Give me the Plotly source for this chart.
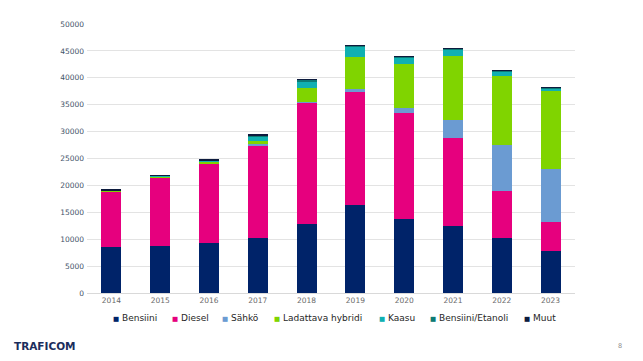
import plotly.graph_objects as go

years = ["2014", "2015", "2016", "2017", "2018", "2019", "2020", "2021", "2022", "2023"]
bensiini = [8560, 8810, 9300, 10230, 12780, 16310, 13710, 12410, 10230, 7890]
diesel = [10360, 12660, 14770, 17240, 22560, 21210, 19660, 16420, 8820, 5260]
sahko = [20, 30, 50, 150, 250, 310, 930, 3420, 8550, 9990]
hybridi = [60, 150, 280, 720, 2490, 6070, 8240, 11840, 12770, 14430]
kaasu = [60, 100, 180, 800, 1300, 1870, 1240, 1180, 810, 450]
etanoli = [80, 120, 120, 200, 300, 190, 200, 200, 190, 190]
muut = [30, 40, 30, 40, 70, 60, 50, 50, 50, 50]

series_names = ["Bensiini", "Diesel", "Sähkö", "Ladattava hybridi", "Kaasu", "Bensiini/Etanoli", "Muut"]
series_values = [bensiini, diesel, sahko, hybridi, kaasu, etanoli, muut]
colors = ["#002369", "#e6007e", "#6b9bd2", "#80d400", "#10b0b2", "#0d7a74", "#0d1b3e"]
y_ticks = [0, 5000, 10000, 15000, 20000, 25000, 30000, 35000, 40000, 45000, 50000]

fig = go.Figure()
for name, vals, col in zip(series_names, series_values, colors):
    fig.add_trace(go.Bar(x=years, y=vals, name=name, marker=dict(color=col, line=dict(width=0)),
                         showlegend=False))

OFF = 8  # page body margin
W, H = 643 - OFF, 361 - OFF
L, R, T, B = 87 - OFF, 68, 24 - OFF, 68
pw = W - L - R
ph = H - T - B

fig.update_layout(
    width=W, height=H,
    margin=dict(l=L, r=R, t=T, b=B, pad=0),
    barmode="stack",
    bargap=0.59,
    plot_bgcolor="white",
    paper_bgcolor="white",
    font=dict(family="DejaVu Sans, Verdana, sans-serif", size=7.5, color="#595959"),
    xaxis=dict(type="category", showgrid=False, showline=True, linecolor="#d9d9d9", linewidth=1,
               ticks="", tickfont=dict(size=7.5, color="#6a6a6a")),
    yaxis=dict(range=[0, 50000], tickvals=y_ticks, tickformat="d", showgrid=True,
               gridcolor="#e3e3e3", gridwidth=1,
               zeroline=False, showline=False, ticks="", tickfont=dict(size=7.5, color="#44546a"),
               ticklabelstandoff=2),
)


def px_x(px):
    return (px - OFF - L) / pw


def px_y(py):
    return (H - (py - OFF) - B) / ph


leg_x = [110.5, 170, 219.5, 271.5, 376.5, 427.5, 522]
annotations = []
for name, col, px in zip(series_names, colors, leg_x):
    annotations.append(dict(
        x=px_x(px), y=px_y(318), xref="paper", yref="paper",
        xanchor="left", yanchor="middle", showarrow=False,
        text=f"<span style='color:{col};font-size:6.5px'>■</span> {name}",
        font=dict(family="DejaVu Sans, Verdana, sans-serif", size=9, color="#262626"),
    ))
annotations.append(dict(
    x=px_x(12), y=px_y(346), xref="paper", yref="paper",
    xanchor="left", yanchor="middle", showarrow=False,
    text="<b>TRAFICOM</b>",
    font=dict(family="DejaVu Sans, sans-serif", size=10.5, color="#1b2d5c"),
))
annotations.append(dict(
    x=px_x(620), y=px_y(346), xref="paper", yref="paper",
    xanchor="center", yanchor="middle", showarrow=False,
    text="8",
    font=dict(family="DejaVu Sans, sans-serif", size=6.5, color="#8c8c8c"),
))
fig.update_layout(annotations=annotations)

fig.write_html("out.html")
